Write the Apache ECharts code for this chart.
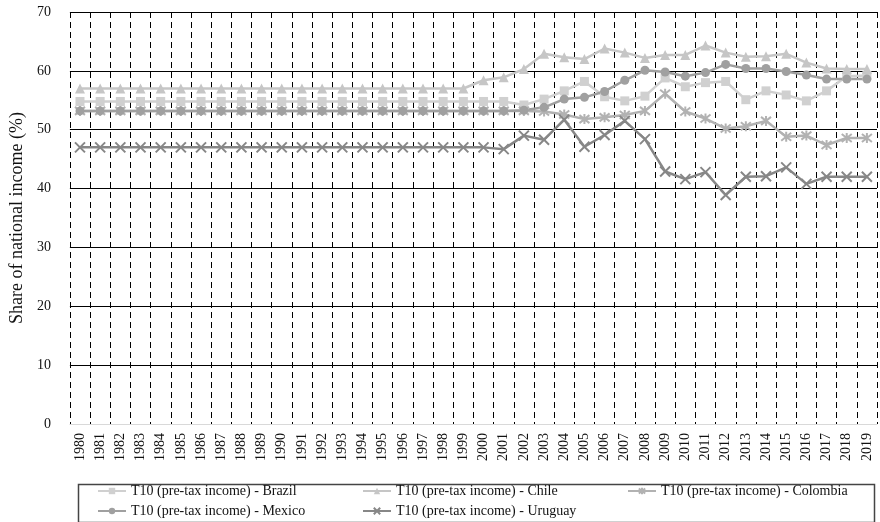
<!DOCTYPE html>
<html>
<head>
<meta charset="utf-8">
<script src="https://cdn.jsdelivr.net/npm/echarts@6/dist/echarts.min.js"></script>
<style>html,body{margin:0;padding:0;background:#fff;}#c{width:880px;height:522px;}</style>
</head>
<body>
<div id="c"></div>
<script>
var years = [];
for (var y = 1980; y <= 2019; y++) years.push(String(y));

var brazil = [54.8,54.8,54.8,54.8,54.8,54.8,54.8,54.8,54.8,54.8,54.8,54.8,54.8,54.8,54.8,54.8,54.8,54.8,54.8,54.8,54.8,54.8,54.2,55.2,56.6,58.2,55.6,54.9,55.7,58.8,57.3,58.0,58.2,55.1,56.6,55.9,54.9,56.6,59.1,59.2];
var chile = [57.0,57.0,57.0,57.0,57.0,57.0,57.0,57.0,57.0,57.0,57.0,57.0,57.0,57.0,57.0,57.0,57.0,57.0,57.0,57.0,58.4,58.9,60.3,62.9,62.3,62.0,63.8,63.1,62.2,62.7,62.7,64.3,63.1,62.4,62.5,62.9,61.4,60.4,60.3,60.3];
var colombia = [53.2,53.2,53.2,53.2,53.2,53.2,53.2,53.2,53.2,53.2,53.2,53.2,53.2,53.2,53.2,53.2,53.2,53.2,53.2,53.2,53.2,53.2,53.2,53.1,52.6,51.8,52.1,52.5,53.2,56.1,53.1,51.9,50.2,50.6,51.5,48.8,49.0,47.4,48.6,48.6];
var mexico = [53.2,53.2,53.2,53.2,53.2,53.2,53.2,53.2,53.2,53.2,53.2,53.2,53.2,53.2,53.2,53.2,53.2,53.2,53.2,53.2,53.2,53.2,53.3,53.8,55.2,55.5,56.5,58.4,60.1,59.8,59.1,59.7,61.1,60.4,60.4,59.9,59.3,58.6,58.6,58.6];
var uruguay = [47.0,47.0,47.0,47.0,47.0,47.0,47.0,47.0,47.0,47.0,47.0,47.0,47.0,47.0,47.0,47.0,47.0,47.0,47.0,47.0,47.0,46.7,49.0,48.3,51.7,47.1,49.1,51.5,48.4,42.9,41.6,42.8,38.9,42.0,42.1,43.6,40.8,42.0,42.0,42.0];

var names = [
  'T10 (pre-tax income) - Brazil',
  'T10 (pre-tax income) - Chile',
  'T10 (pre-tax income) - Colombia',
  'T10 (pre-tax income) - Mexico',
  'T10 (pre-tax income) - Uruguay'
];

var FONT = 'Liberation Serif';
var xPath = 'path://M0,0L10,10M10,0L0,10';
var starPath = 'path://M0,1L10,9M10,1L0,9M5,0L5,10';

function mk(name, data, color, symbol, size, stroke) {
  return {
    name: name, type: 'line', data: data,
    symbol: symbol, symbolSize: size,
    showSymbol: true,
    lineStyle: { color: color, width: 2.5 },
    itemStyle: stroke ? { color: color, borderColor: color, borderWidth: 2 } : { color: color, borderWidth: 0 },
    emphasis: { disabled: true },
    animation: false
  };
}

function lg(name, left, top) {
  return {
    data: [name], left: left, top: top, orient: 'horizontal', padding: 0,
    itemWidth: 28, itemHeight: 8, itemGap: 0,
    textStyle: { fontFamily: FONT, fontSize: 14, color: '#111' },
    selectedMode: false
  };
}

var chart = echarts.init(document.getElementById('c'), null, { renderer: 'canvas' });
chart.setOption({
  animation: false,
  backgroundColor: '#fff',
  grid: { left: 66, right: 3, top: 12, bottom: 98, containLabel: false },
  xAxis: {
    type: 'category', data: years, boundaryGap: true,
    axisLine: { show: true, lineStyle: { color: '#d9d9d9', width: 1 } },
    axisTick: { show: false },
    axisLabel: { rotate: 90, interval: 0, margin: 9, fontFamily: FONT, fontSize: 14, color: '#111' },
    splitLine: { show: true, interval: 0, lineStyle: { color: '#000', type: [6, 4], width: 1 } }
  },
  yAxis: {
    type: 'value', min: 0, max: 70, interval: 10,
    name: 'Share of national income (%)', nameLocation: 'middle', nameGap: 42,
    nameTextStyle: { fontFamily: FONT, fontSize: 18, color: '#111' },
    axisLine: { show: false }, axisTick: { show: false },
    axisLabel: { margin: 19, fontFamily: FONT, fontSize: 14, color: '#111' },
    splitLine: { show: true, showMinLine: false, lineStyle: { color: '#000', width: 1 } }
  },
  legend: [
    lg(names[0], 97, 484),
    lg(names[1], 362, 484),
    lg(names[2], 627, 484),
    lg(names[3], 97, 504),
    lg(names[4], 362, 504)
  ],
  graphic: [{
    type: 'rect', left: 76, top: 482, silent: true,
    shape: { width: 796, height: 38 },
    style: { fill: 'none', stroke: '#444', lineWidth: 1.5 }
  }],
  series: [
    mk(names[0], brazil, '#d0d0d0', 'rect', 9, false),
    mk(names[1], chile, '#c6c6c6', 'triangle', 10, false),
    mk(names[2], colombia, '#b2b2b2', starPath, 10, true),
    mk(names[3], mexico, '#a0a0a0', 'circle', 9, false),
    mk(names[4], uruguay, '#878787', xPath, 10, true)
  ]
});
</script>
</body>
</html>
